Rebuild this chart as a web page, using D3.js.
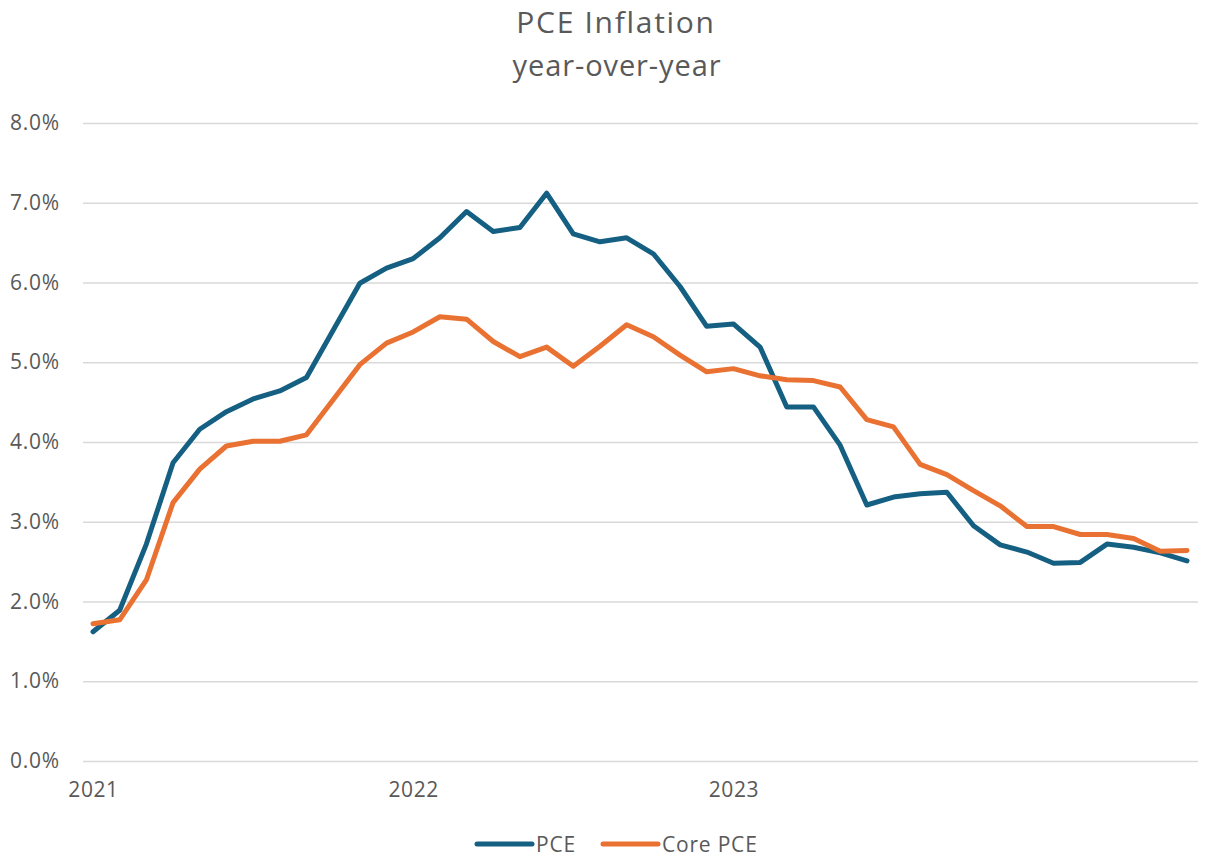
<!DOCTYPE html>
<html>
<head>
<meta charset="utf-8">
<script src="https://cdn.jsdelivr.net/npm/d3@7"></script>
<style>
  body { margin: 0; background: #fff; }
  svg text { font-family: "Open Sans", "Noto Sans", sans-serif; fill: #595959; }
</style>
</head>
<body>
<div id="chart"></div>
<script>
// months, Jan 2021 .. Jun 2024
const months = [
  "2021-01","2021-02","2021-03","2021-04","2021-05","2021-06","2021-07","2021-08","2021-09","2021-10","2021-11","2021-12",
  "2022-01","2022-02","2022-03","2022-04","2022-05","2022-06","2022-07","2022-08","2022-09","2022-10","2022-11","2022-12",
  "2023-01","2023-02","2023-03","2023-04","2023-05","2023-06","2023-07","2023-08","2023-09","2023-10","2023-11","2023-12",
  "2024-01","2024-02","2024-03","2024-04","2024-05","2024-06"
];

const pce = [
  1.62, 1.89, 2.72, 3.74, 4.16, 4.38, 4.54, 4.64, 4.81, 5.40, 5.99, 6.18,
  6.30, 6.56, 6.89, 6.64, 6.69, 7.12, 6.61, 6.51, 6.56, 6.36, 5.95, 5.45,
  5.48, 5.19, 4.44, 4.44, 3.96, 3.21, 3.31, 3.35, 3.37, 2.95, 2.71, 2.62,
  2.48, 2.49, 2.72, 2.68, 2.61, 2.51
];

const corePce = [
  1.72, 1.77, 2.27, 3.24, 3.66, 3.95, 4.01, 4.01, 4.09, 4.53, 4.97, 5.24,
  5.38, 5.57, 5.54, 5.26, 5.07, 5.19, 4.95, 5.20, 5.47, 5.32, 5.09, 4.88,
  4.92, 4.83, 4.78, 4.77, 4.69, 4.28, 4.19, 3.72, 3.59, 3.39, 3.20, 2.94,
  2.94, 2.84, 2.84, 2.79, 2.63, 2.64
];

const yTicks = [0, 1, 2, 3, 4, 5, 6, 7, 8];
const xTickMonths = ["2021-01", "2022-01", "2023-01"];
const xTickLabels = ["2021", "2022", "2023"];

const seriesNames = ["PCE", "Core PCE"];
const colors = ["#156082", "#E97132"];

const W = 1216, H = 860;
const plot = { left: 83, right: 1198, top: 123, bottom: 761 };

const svg = d3.select("#chart").append("svg")
  .attr("width", W).attr("height", H);

// title
svg.append("text").attr("x", 616).attr("y", 33)
  .attr("text-anchor", "middle")
  .style("font-size", "30px").style("letter-spacing", "1.7px")
  .text("PCE Inflation");
svg.append("text").attr("x", 617).attr("y", 76)
  .attr("text-anchor", "middle")
  .style("font-size", "29px").style("letter-spacing", "0.9px")
  .text("year-over-year");

const x = d3.scaleLinear()
  .domain([0, months.length - 1])
  .range([93, 1187]);

const y = d3.scaleLinear()
  .domain([0, 8])
  .range([plot.bottom, plot.top]);

// y gridlines + labels
const yAxis = svg.append("g")
  .attr("transform", `translate(${plot.left},0)`)
  .call(d3.axisLeft(y).tickValues(yTicks)
    .tickSize(-(plot.right - plot.left))
    .tickPadding(23)
    .tickFormat(d => d.toFixed(1) + "%"));
yAxis.select(".domain").remove();
yAxis.selectAll(".tick line").attr("stroke", "#d9d9d9").attr("stroke-width", 1.5);
yAxis.selectAll(".tick text")
  .style("font-size", "21px").style("letter-spacing", "0.8px")
  .attr("fill", "#595959");

// x labels
const xAxis = svg.append("g")
  .attr("transform", `translate(0,${plot.bottom})`)
  .call(d3.axisBottom(x)
    .tickValues(xTickMonths.map(m => months.indexOf(m)))
    .tickSize(0)
    .tickPadding(21)
    .tickFormat((d, i) => xTickLabels[i]));
xAxis.select(".domain").remove();
xAxis.selectAll(".tick text")
  .style("font-size", "21px").style("letter-spacing", "0.6px")
  .attr("fill", "#595959");

// lines
const line = d3.line()
  .x((d, i) => x(i))
  .y(d => y(d));

[pce, corePce].forEach((vals, k) => {
  svg.append("path")
    .datum(vals)
    .attr("fill", "none")
    .attr("stroke", colors[k])
    .attr("stroke-width", 5)
    .attr("stroke-linejoin", "round")
    .attr("stroke-linecap", "round")
    .attr("d", line);
});

// legend
const legendX = [477, 603];
const legend = svg.append("g").attr("transform", "translate(0,844)");
seriesNames.forEach((name, k) => {
  legend.append("line")
    .attr("x1", legendX[k]).attr("x2", legendX[k] + 55)
    .attr("y1", 0).attr("y2", 0)
    .attr("stroke", colors[k]).attr("stroke-width", 5)
    .attr("stroke-linecap", "round");
  legend.append("text")
    .attr("x", legendX[k] + 59).attr("y", 8)
    .style("font-size", "21px").style("letter-spacing", "0.8px")
    .text(name);
});
</script>
</body>
</html>
